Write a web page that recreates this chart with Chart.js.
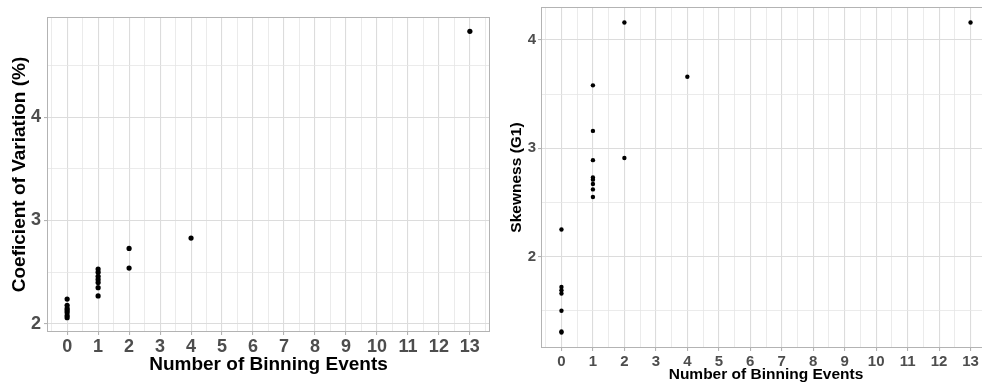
<!DOCTYPE html>
<html>
<head>
<meta charset="utf-8">
<script src="https://cdn.jsdelivr.net/npm/chart.js@4"></script>
<style>
  html, body { margin: 0; padding: 0; background: #fff; overflow: hidden; width: 982px; height: 382px; }
  #left { position: absolute; left: 0; top: 0; }
  #right { position: absolute; left: 500px; top: 0; }
</style>
</head>
<body>
<canvas id="left" width="491" height="382"></canvas>
<canvas id="right" width="491" height="382"></canvas>
<script>
// values
const xTickLabels = ['0', '1', '2', '3', '4', '5', '6', '7', '8', '9', '10', '11', '12', '13'];

const cvBins = [0, 0, 0, 0, 0, 0, 0, 1, 1, 1, 1, 1, 1, 1, 2, 2, 4, 13];
const cvValues = [2.24, 2.18, 2.15, 2.13, 2.11, 2.08, 2.06, 2.53, 2.50, 2.46, 2.43, 2.40, 2.35, 2.27, 2.73, 2.54, 2.83, 4.83];
const cvYTicks = [2, 3, 4];

const skewBins = [0, 0, 0, 0, 0, 0, 0, 1, 1, 1, 1, 1, 1, 1, 1, 2, 2, 4, 13];
const skewValues = [2.25, 1.72, 1.69, 1.66, 1.50, 1.31, 1.30, 3.58, 3.16, 2.89, 2.73, 2.71, 2.67, 2.62, 2.55, 4.16, 2.91, 3.66, 4.16];
const skewYTicks = [2, 3, 4];

const FONT = "'Liberation Sans', Arial, sans-serif";
const MAJOR = '#dcdcdc';
const MINOR = '#e6e6e6';
const BORDER = '#b3b3b3';

// panel border drawn on top of the grid (ggplot style)
const panelBorder = {
    id: 'panelBorder',
    beforeDatasetsDraw(chart) {
        const a = chart.chartArea;
        const ctx = chart.ctx;
        ctx.save();
        ctx.strokeStyle = BORDER;
        ctx.lineWidth = 1;
        ctx.strokeRect(a.left + 0.5, a.top + 0.5, a.right - a.left - 1, a.bottom - a.top - 1);
        ctx.restore();
    }
};

function isMajor(v) {
    return Math.abs(v - Math.round(v)) < 1e-6;
}

function makePanel(id, bins, values, yTicks, yTitle, s) {
    const points = bins.map((b, i) => ({ x: b, y: values[i] }));
    const lo = Math.min(...values), hi = Math.max(...values);
    const ypad = (hi - lo) * 0.05;
    const ymin = lo - ypad, ymax = hi + ypad;
    const xmin = -0.65, xmax = 13.65;

    // major + half-step minor grid lines
    const yGrid = [];
    for (let v = yTicks[0] - 0.5; v <= yTicks[yTicks.length - 1] + 0.5; v += 0.5) {
        if (v >= ymin && v <= ymax) yGrid.push(v);
    }
    const xGrid = [];
    for (let v = -0.5; v <= 13.5; v += 0.5) xGrid.push(v);

    const gridOpts = {
        color: c => isMajor(c.tick.value) ? MAJOR : MINOR,
        lineWidth: c => isMajor(c.tick.value) ? 1.1 : 0.8,
        tickColor: c => isMajor(c.tick.value) ? BORDER : 'rgba(0,0,0,0)',
        tickLength: 3,
        drawTicks: true
    };

    return new Chart(document.getElementById(id), {
        type: 'scatter',
        data: {
            datasets: [{
                data: points,
                backgroundColor: '#000',
                borderColor: '#000',
                pointRadius: s.radius,
                borderWidth: 0
            }]
        },
        options: {
            responsive: false,
            animation: false,
            layout: { autoPadding: false, padding: { top: s.padTop, right: s.padRight, left: 0, bottom: 0 } },
            plugins: { legend: { display: false }, tooltip: { enabled: false } },
            scales: {
                x: {
                    type: 'linear',
                    min: xmin,
                    max: xmax,
                    afterBuildTicks: sc => { sc.ticks = xGrid.map(v => ({ value: v })); },
                    afterFit: sc => { sc.height = s.xHeight; sc.paddingLeft = 0; sc.paddingRight = 0; },
                    grid: gridOpts,
                    border: { display: false },
                    ticks: {
                        autoSkip: false,
                        maxRotation: 0,
                        padding: s.xTickPad,
                        color: '#4d4d4d',
                        font: { family: FONT, size: s.tickSize, weight: 'bold' },
                        callback: v => isMajor(v) ? (xTickLabels[Math.round(v)] || '') : ''
                    },
                    title: {
                        display: true,
                        text: 'Number of Binning Events',
                        color: '#000',
                        font: { family: FONT, size: s.titleSize, weight: 'bold', lineHeight: s.titleLH },
                        padding: { top: 0, bottom: s.xTitlePad }
                    }
                },
                y: {
                    type: 'linear',
                    min: ymin,
                    max: ymax,
                    afterBuildTicks: sc => { sc.ticks = yGrid.map(v => ({ value: v })); },
                    afterFit: sc => { sc.width = s.yWidth; sc.paddingTop = 0; sc.paddingBottom = 0; },
                    grid: gridOpts,
                    border: { display: false },
                    ticks: {
                        padding: s.yTickPad,
                        color: '#4d4d4d',
                        font: { family: FONT, size: s.tickSize, weight: 'bold' },
                        callback: v => yTicks.includes(v) ? String(v) : ''
                    },
                    title: {
                        display: true,
                        text: yTitle,
                        color: '#000',
                        font: { family: FONT, size: s.yTitleSize, weight: 'bold' },
                        padding: { top: s.yTitlePad, bottom: 0 }
                    }
                }
            }
        },
        plugins: [panelBorder]
    });
}

makePanel('left', cvBins, cvValues, cvYTicks, 'Coeficient of Variation (%)', {
    radius: 2.6, padTop: 17, padRight: 1, xHeight: 50, yWidth: 47,
    tickSize: 18, titleSize: 19, titleLH: 1.2, yTitleSize: 19,
    xTickPad: 1, yTickPad: 3, xTitlePad: 6, yTitlePad: 8
});

makePanel('right', skewBins, skewValues, skewYTicks, 'Skewness (G1)', {
    radius: 2.2, padTop: 7, padRight: 0, xHeight: 34, yWidth: 41,
    tickSize: 15, titleSize: 15.5, titleLH: 1.0, yTitleSize: 15.5,
    xTickPad: 2, yTickPad: 2, xTitlePad: 0, yTitlePad: 7
});
</script>
</body>
</html>
